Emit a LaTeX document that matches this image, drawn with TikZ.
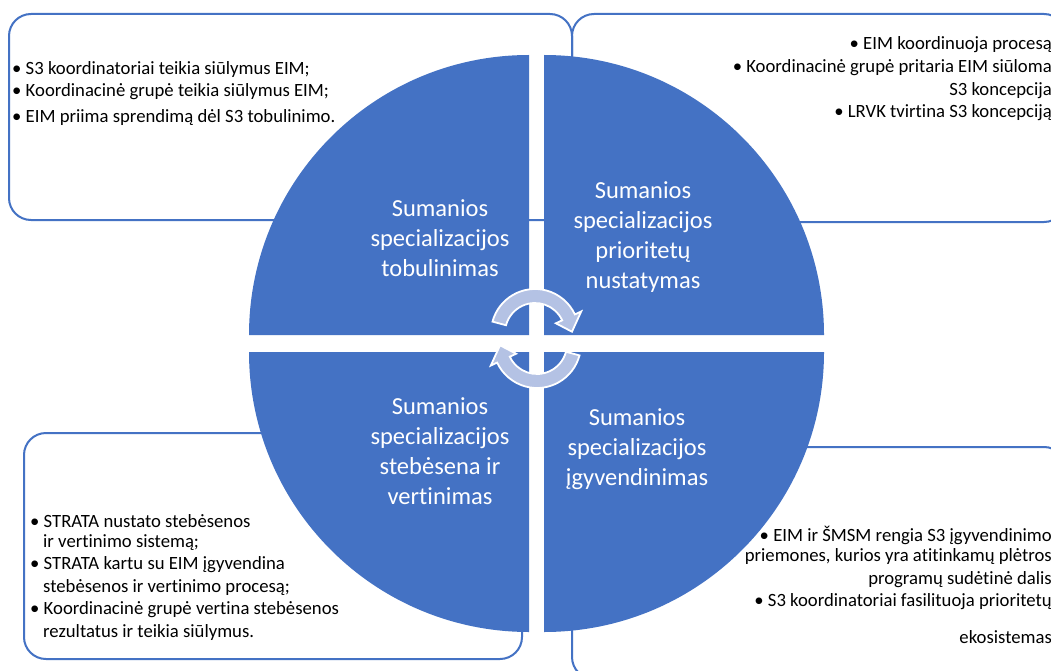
\documentclass[tikz,border=0pt]{standalone}
\usepackage{fontspec}
\setmainfont[Ligatures=NoCommon]{Carlito}
\usetikzlibrary{calc}
\definecolor{oblue}{HTML}{4472C4}
\definecolor{arrowfill}{HTML}{B4C2E4}
\begin{document}
\begin{tikzpicture}[x=1pt,y=-1pt,
  quad/.style={fill=oblue},
  infobox/.style={draw=oblue, line width=2pt, rounded corners=22pt},
  qlabel/.style={text=white, font=\fontsize{24.5}{30}\selectfont, align=center, inner sep=0pt},
  small/.style={font=\fontsize{18.7}{22}\selectfont, inner sep=0pt},
  cyc/.style={fill=arrowfill, draw=white, line width=1.8pt, line join=miter}]
\useasboundingbox (0,0) rectangle (1051,671);
\clip (0,0) rectangle (1051,671);
\fill[white] (0,0) rectangle (1051,671);

% text boxes (behind the circle)
\draw[infobox] (9,14) rectangle (572,220);
\draw[infobox] (572,14) rectangle (1066,222);
\draw[infobox] (24,433) rectangle (522,659);
\draw[infobox] (572,447) rectangle (1066,679);

% four quadrants
\fill[quad] (529,335) -- (249,335) arc[start angle=180,end angle=270,radius=280] -- cycle;
\fill[quad] (544,335) -- (544,55) arc[start angle=270,end angle=360,radius=280] -- cycle;
\fill[quad] (544,352) -- (824,352) arc[start angle=0,end angle=90,radius=280] -- cycle;
\fill[quad] (529,352) -- (529,632) arc[start angle=90,end angle=180,radius=280] -- cycle;

% quadrant labels
\node[qlabel] (qtl) at (440,238) {Sumanios\\specializacijos\\tobulinimas};
\node[qlabel] (qtr) at (643,237) {Sumanios\\specializacijos\\prioritetų\\nustatymas};
\node[qlabel] (qbl) at (440,451) {Sumanios\\specializacijos\\stebėsena ir\\vertinimas};
\node[qlabel] (qbr) at (637,449) {Sumanios\\specializacijos\\įgyvendinimas};

% cycle arrows
\begin{scope}[shift={(535,333)}]
\filldraw[cyc] (195:44) arc[start angle=195,end angle=335,radius=44] -- (335:51) -- (358:37) -- (335:23) -- (335:30) arc[start angle=335,end angle=195,radius=30] -- cycle;
\end{scope}
\begin{scope}[shift={(537,344)}]
\filldraw[cyc] (15:44) arc[start angle=15,end angle=155,radius=44] -- (155:51) -- (178:37) -- (155:23) -- (155:30) arc[start angle=155,end angle=15,radius=30] -- cycle;
\end{scope}

% top-left box text
\node[small,anchor=west] (tl1) at (12,70) {• S3 koordinatoriai teikia siūlymus EIM;};
\node[small,anchor=west] (tl2) at (12,92) {• Koordinacinė grupė teikia siūlymus EIM;};
\node[small,anchor=west] (tl3) at (12,118) {• EIM priima sprendimą dėl S3 tobulinimo.};

% top-right box text
\node[small,anchor=east] (tr1) at (1052,45) {• EIM koordinuoja procesą};
\node[small,anchor=east] (tr2) at (1052,68) {• Koordinacinė grupė pritaria EIM siūloma};
\node[small,anchor=east] (tr3) at (1052,91) {S3 koncepcija};
\node[small,anchor=east] (tr4) at (1052,113) {• LRVK tvirtina S3 koncepciją};

% bottom-left box text
\node[small,anchor=west] (bl1) at (30,521) {• STRATA nustato stebėsenos};
\node[small,anchor=west] (bl2) at (43,543) {ir vertinimo sistemą;};
\node[small,anchor=west] (bl3) at (30,565) {• STRATA kartu su EIM įgyvendina};
\node[small,anchor=west] (bl4) at (43,588) {stebėsenos ir vertinimo procesą;};
\node[small,anchor=west] (bl5) at (30,610) {• Koordinacinė grupė vertina stebėsenos};
\node[small,anchor=west] (bl6) at (43,633) {rezultatus ir teikia siūlymus.};

% bottom-right box text
\node[small,anchor=east] (br1) at (1052,535) {• EIM ir ŠMSM rengia S3 įgyvendinimo};
\node[small,anchor=east] (br2) at (1052,557) {priemones, kurios yra atitinkamų plėtros};
\node[small,anchor=east] (br3) at (1052,580) {programų sudėtinė dalis};
\node[small,anchor=east] (br4) at (1052,602) {• S3 koordinatoriai fasilituoja prioritetų};
\node[small,anchor=east] (br5) at (1052,637) {ekosistemas};
\end{tikzpicture}
\end{document}
